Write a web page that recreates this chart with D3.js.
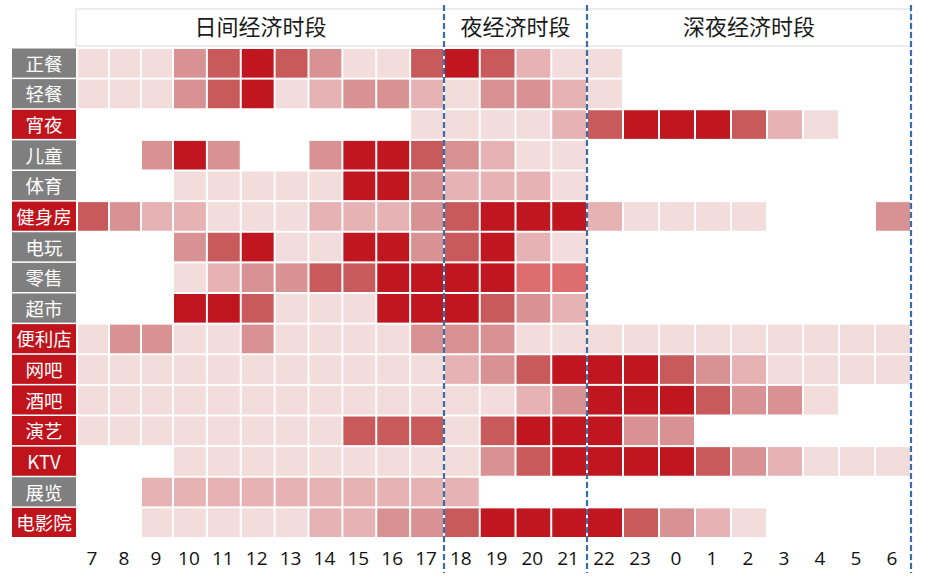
<!DOCTYPE html>
<html><head><meta charset="utf-8">
<script src="https://cdn.jsdelivr.net/npm/d3@7"></script>
<style>body{margin:0;background:#fff;} svg{display:block;}</style>
</head><body>
<svg id="c" width="930" height="577"></svg>
<script>
const hours = ["7","8","9","10","11","12","13","14","15","16","17","18","19","20","21","22","23","0","1","2","3","4","5","6"];
const categories = ["正餐","轻餐","宵夜","儿童","体育","健身房","电玩","零售","超市","便利店","网吧","酒吧","演艺","KTV","展览","电影院"];
const labelType = ["day","day","night","day","day","night","day","day","day","night","night","night","night","night","day","night"];
const periods = ["日间经济时段","夜经济时段","深夜经济时段"];
const periodBounds = [0, 11, 15, 24];
// intensity level 0 (none) .. 5 (highest), per hour 7..6
const v_zhengcan  = [1,1,1,3,4,5,4,3,1,1,4, 5,4,2,1, 1,0,0,0,0,0,0,0,0];
const v_qingcan   = [1,1,1,3,4,5,1,2,3,3,2, 1,3,3,2, 1,0,0,0,0,0,0,0,0];
const v_xiaoye    = [0,0,0,0,0,0,0,0,0,0,1, 1,1,1,2, 4,5,5,5,4,2,1,0,0];
const v_ertong    = [0,0,3,5,3,0,0,3,5,5,4, 3,2,1,1, 0,0,0,0,0,0,0,0,0];
const v_tiyu      = [0,0,0,1,1,1,1,1,5,5,3, 2,2,2,1, 0,0,0,0,0,0,0,0,0];
const v_jianshen  = [4,3,2,2,1,1,1,2,2,2,3, 4,5,5,5, 2,1,1,1,1,0,0,0,3];
const v_dianwan   = [0,0,0,3,4,5,1,1,5,5,3, 4,5,2,1, 0,0,0,0,0,0,0,0,0];
const v_lingshou  = [0,0,0,1,2,3,3,4,4,5,5, 5,5,4.5,4.5, 0,0,0,0,0,0,0,0,0];
const v_chaoshi   = [0,0,0,5,5,4,1,1,1,5,5, 5,4,3,2, 0,0,0,0,0,0,0,0,0];
const v_bianli    = [1,3,3,1,1,3,1,1,1,1,3, 3,3,1,1, 1,1,1,1,1,1,1,1,1];
const v_wangba    = [1,1,1,1,1,1,1,1,1,1,1, 2,3,4,5, 5,5,4,3,2,1,1,1,1];
const v_jiuba     = [1,1,1,1,1,1,1,1,1,1,1, 1,1,2,3, 5,5,5,4,3,3,1,0,0];
const v_yanyi     = [1,1,1,1,1,1,1,1,4,4,4, 1,4,5,5, 5,3,3,0,0,0,0,0,0];
const v_ktv       = [0,0,0,1,1,1,1,1,1,1,1, 1,3,4,5, 5,5,5,4,3,2,1,1,1];
const v_zhanlan   = [0,0,2,2,2,2,2,2,2,2,2, 2,0,0,0, 0,0,0,0,0,0,0,0,0];
const v_dianying  = [0,0,1,1,1,1,1,2,2,3,3, 4,5,5,5, 5,4,3,2,1,0,0,0,0];
const rows = [v_zhengcan,v_qingcan,v_xiaoye,v_ertong,v_tiyu,v_jianshen,v_dianwan,v_lingshou,v_chaoshi,v_bianli,v_wangba,v_jiuba,v_yanyi,v_ktv,v_zhanlan,v_dianying];

const svg = d3.select("#c");
const x = d3.scaleLinear().domain([0,3,11,15,24]).range([77,173,444,587,911]);
const y = d3.scaleBand().domain(categories).range([48,538]);
const color = d3.scaleOrdinal().domain([1,2,3,4,4.5,5]).range(["#f2dcdc","#e6b2b3","#d99293","#c95a5c","#de6d6f","#c0161f"]);
const labelColor = d3.scaleOrdinal().domain(["day","night"]).range(["#7f7f7f","#c0141d"]);

// header
svg.append("rect").attr("x",76).attr("y",9).attr("width",x(24)-76).attr("height",37)
  .attr("fill","#fff").attr("stroke","#dadada").attr("stroke-width",1);
svg.selectAll("text.period").data(periods).join("text").attr("class","period")
  .attr("x",(d,i)=> (x(periodBounds[i])+x(periodBounds[i+1]))/2)
  .attr("y",35).attr("text-anchor","middle")
  .attr("font-family","'Noto Sans CJK SC', sans-serif").attr("font-size",22).attr("fill","#1a1a1a")
  .text(d=>d);

// cells
const cells = [];
rows.forEach((r,ri)=> r.forEach((v,ci)=>{ if(v>0) cells.push({cat:categories[ri], col:ci, v}); }));
svg.append("g").selectAll("rect").data(cells).join("rect")
  .attr("x",d=>x(d.col)+1).attr("y",d=>y(d.cat)+1)
  .attr("width",d=>x(d.col+1)-x(d.col)-2).attr("height",y.bandwidth()-2)
  .attr("fill",d=>color(d.v));

// row labels
const lab = svg.append("g").selectAll("g").data(categories).join("g");
lab.append("rect").attr("x",12).attr("y",d=>y(d)+0.5).attr("width",64).attr("height",y.bandwidth()-1.5)
  .attr("fill",(d,i)=>labelColor(labelType[i]));
lab.append("text").attr("x",44).attr("y",d=>y(d)+y.bandwidth()/2+7.5).attr("text-anchor","middle")
  .attr("font-family","'Noto Sans CJK SC', sans-serif").attr("font-size",18.5).attr("fill","#fff")
  .text(d=>d);

// x tick labels
svg.append("g").selectAll("text").data(hours).join("text")
  .attr("x",(d,i)=>(x(i)+x(i+1))/2 - 1).attr("y",565).attr("text-anchor","middle")
  .attr("font-family","'Open Sans', sans-serif").attr("font-size",19).attr("fill","#111")
  .text(d=>d);

// dashed separators
svg.append("g").selectAll("line").data(periodBounds.slice(1)).join("line")
  .attr("x1",d=>x(d)).attr("x2",d=>x(d)).attr("y1",5).attr("y2",573)
  .attr("stroke","#3a6ea8").attr("stroke-width",2.2).attr("stroke-dasharray","6,3");
</script>
</body></html>
